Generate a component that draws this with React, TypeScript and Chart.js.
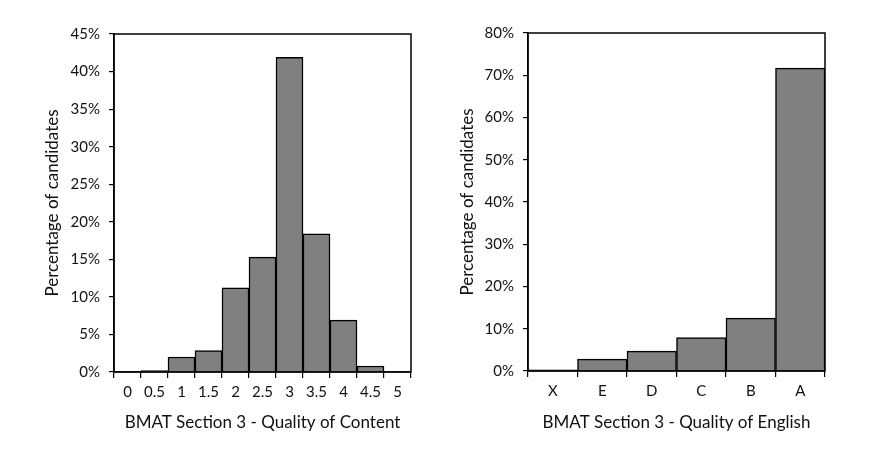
import React, { useEffect, useRef } from 'react';
import { Chart, registerables } from 'chart.js';

Chart.register(...registerables);

// ---- Data ----
const contentCategories = ['0', '0.5', '1', '1.5', '2', '2.5', '3', '3.5', '4', '4.5', '5'];
const contentValues = [0.1, 0.2, 2.0, 2.85, 11.2, 15.3, 41.9, 18.4, 6.9, 0.8, 0.1];
const contentMax = 45;
const contentStep = 5;
const contentTitle = 'BMAT Section 3 - Quality of Content';

const englishCategories = ['X', 'E', 'D', 'C', 'B', 'A'];
const englishValues = [0.25, 2.8, 4.7, 7.9, 12.5, 71.7];
const englishMax = 80;
const englishStep = 10;
const englishTitle = 'BMAT Section 3 - Quality of English';

const yTitle = 'Percentage of candidates';

const FONT = 'Lato, "Open Sans", sans-serif';
const TEXT = '#111';

const framePlugin = {
  id: 'frame',
  afterDraw(chart: any) {
    const { ctx, chartArea } = chart;
    const { left, top, right, bottom } = chartArea;
    ctx.save();
    ctx.strokeStyle = '#000';
    ctx.lineWidth = 1.5;
    ctx.strokeRect(left, top, right - left, bottom - top);
    ctx.restore();
  },
};

type Props = {
  labels: string[];
  values: number[];
  max: number;
  step: number;
  xTitle: string;
  left: number;
  padRight: number;
  padTop: number;
  yWidth: number;
  xHeight: number;
  yTitlePad: number;
};

function BarChart(p: Props) {
  const ref = useRef<HTMLCanvasElement | null>(null);
  useEffect(() => {
    if (!ref.current) return;
    const chart = new Chart(ref.current, {
      type: 'bar',
      data: {
        labels: p.labels,
        datasets: [
          {
            data: p.values,
            backgroundColor: '#808080',
            borderColor: '#000',
            borderWidth: 1.5,
            barPercentage: 1,
            categoryPercentage: 1,
          },
        ],
      },
      options: {
        animation: false,
        responsive: false,
        maintainAspectRatio: false,
        layout: { padding: { left: 0, right: p.padRight, top: p.padTop, bottom: 0 } },
        plugins: { legend: { display: false }, tooltip: { enabled: false } },
        scales: {
          x: {
            grid: {
              display: true,
              drawOnChartArea: false,
              drawTicks: true,
              tickLength: 6,
              color: '#000',
              lineWidth: 1.2,
              offset: true,
            },
            border: { display: true, color: '#000', width: 1.5 },
            ticks: {
              color: TEXT,
              font: { family: FONT, size: 15 },
              padding: 5,
              maxRotation: 0,
              autoSkip: false,
            },
            title: {
              display: true,
              text: p.xTitle,
              color: TEXT,
              font: { family: FONT, size: 17 },
              padding: { top: 8, bottom: 19 },
            },
            afterFit: (s: any) => {
              s.height = p.xHeight;
            },
          },
          y: {
            min: 0,
            max: p.max,
            grid: {
              display: true,
              drawOnChartArea: false,
              drawTicks: true,
              tickLength: 5,
              color: '#000',
              lineWidth: 1.2,
            },
            border: { display: true, color: '#000', width: 1.5 },
            ticks: {
              stepSize: p.step,
              color: TEXT,
              font: { family: FONT, size: 15 },
              padding: 9,
              callback: (v: any) => v + '%',
            },
            title: {
              display: true,
              text: yTitle,
              color: TEXT,
              font: { family: FONT, size: 17 },
              padding: { top: p.yTitlePad, bottom: 0 },
            },
            afterFit: (s: any) => {
              s.width = p.yWidth;
            },
          },
        },
      },
      plugins: [framePlugin],
    });
    return () => chart.destroy();
  }, []);
  return (
    <div style={{ position: 'absolute', left: p.left, top: 0, width: 443, height: 452 }}>
      <canvas ref={ref} width={443} height={452} style={{ width: 443, height: 452 }} />
    </div>
  );
}

export default function App() {
  return (
    <div style={{ position: 'fixed', left: 0, top: 0, width: 886, height: 452, background: '#fff' }}>
      <BarChart
        labels={contentCategories}
        values={contentValues}
        max={contentMax}
        step={contentStep}
        xTitle={contentTitle}
        left={0}
        padRight={32}
        padTop={34}
        yWidth={114}
        xHeight={80}
        yTitlePad={42}
      />
      <BarChart
        labels={englishCategories}
        values={englishValues}
        max={englishMax}
        step={englishStep}
        xTitle={englishTitle}
        left={443}
        padRight={61}
        padTop={33}
        yWidth={85}
        xHeight={81}
        yTitlePad={14}
      />
    </div>
  );
}
